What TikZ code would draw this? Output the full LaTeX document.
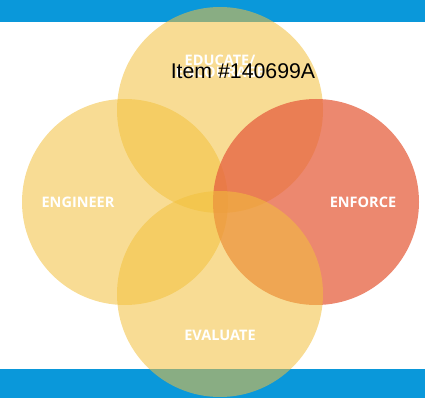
\documentclass[tikz,border=0pt]{standalone}
\usepackage{fontspec}
\setmainfont{Open Sans}
\newfontfamily\itemfont{Liberation Sans}
\usepackage{xcolor}
\usetikzlibrary{positioning}

\definecolor{bandblue}{HTML}{0A98DA}
\definecolor{sunyellow}{HTML}{F2C03C}
\definecolor{coral}{HTML}{E6603F}

\begin{document}
\begin{tikzpicture}[
    x=1pt, y=-1pt,
    band/.style={fill=bandblue, draw=none},
    yellowdisc/.style={circle, fill=sunyellow, fill opacity=0.55, draw=none,
        minimum size=206pt, inner sep=0pt},
    reddisc/.style={circle, fill=coral, fill opacity=0.75, draw=none,
        minimum size=206pt, inner sep=0pt},
    tag/.style={font=\fontsize{14.5}{16}\selectfont\bfseries, text=white, align=center}
]
    \useasboundingbox (0,0) rectangle (425,398);

    % Blue bands
    \fill[band] (0,0) rectangle (425,22);
    \fill[band] (0,369) rectangle (425,398);

    % Circles
    \node[yellowdisc] (engineer) at (125,202) {};
    \node[yellowdisc] (educate) at (220,110) {};
    \node[reddisc] (enforce) at (316,202) {};
    \node[yellowdisc] (evaluate) at (220,294) {};

    % Labels
    \node[tag] (educatelbl) at (220,66) {EDUCATE/\\[-4pt]ENCOURAGE};
    \node[tag] (engineerlbl) at (78,202) {ENGINEER};
    \node[tag] (enforcelbl) at (363,202) {ENFORCE};
    \node[tag] (evaluatelbl) at (220,335) {EVALUATE};

    % Item number
    \node[font=\itemfont\fontsize{21.3}{23}\selectfont, text=black] (itemno) at (243,71) {Item \#140699A};
\end{tikzpicture}
\end{document}
